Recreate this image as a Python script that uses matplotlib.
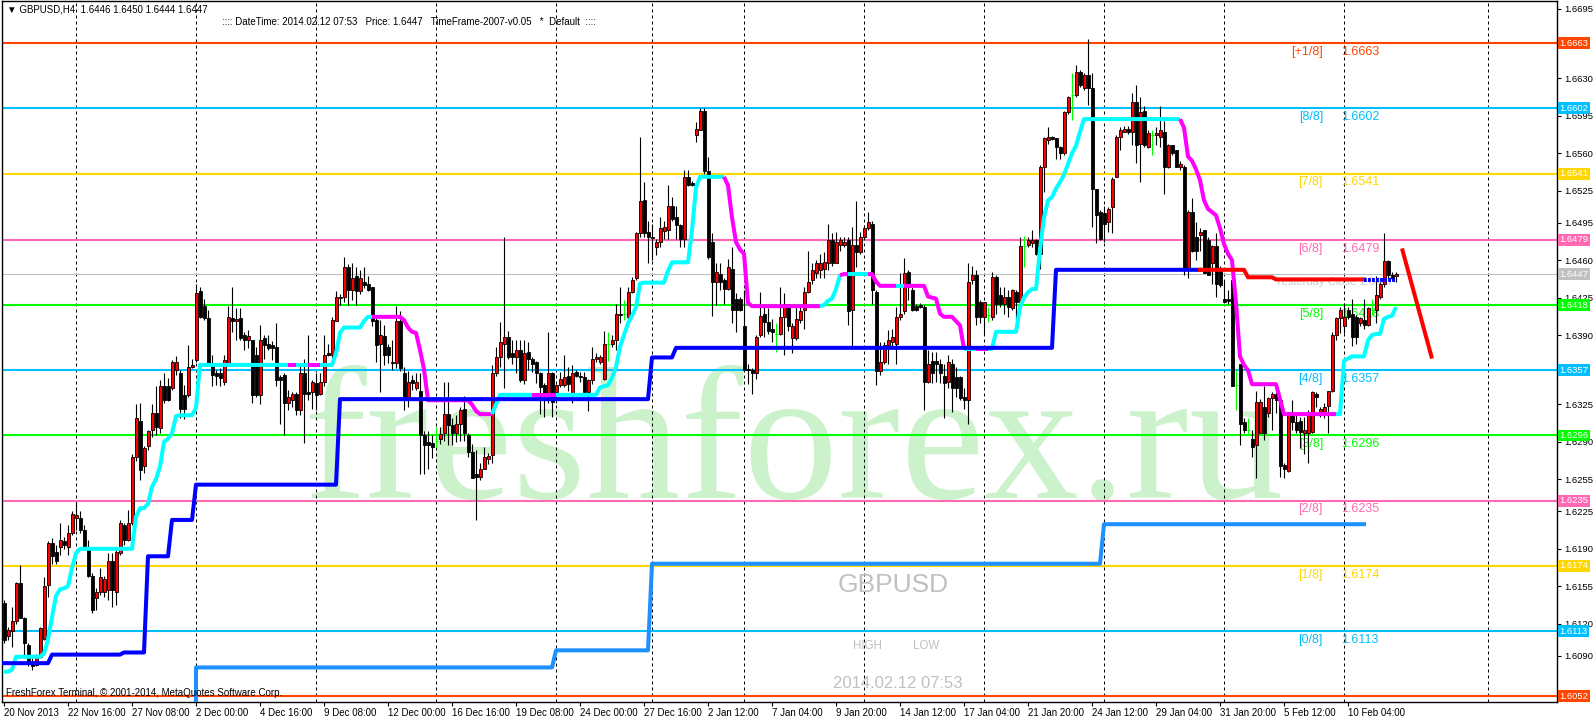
import numpy as np
import matplotlib
matplotlib.use('Agg')
import matplotlib.pyplot as plt
import matplotlib.transforms as mtransforms

plt.rcParams['font.family'] = ['Liberation Sans', 'DejaVu Sans']

# prices are written in pips above 1.6000 (price = 1.6 + pips / 10000)
open_pips = [
    139, 108, 113, 122, 158, 125, 100, 84, 81, 89,
    106, 156, 195, 187, 192, 197, 192, 205, 219, 219,
    208, 192, 165, 144, 150, 150, 151, 179, 150, 186,
    212, 198, 214, 276, 310, 267, 286, 301, 317, 303,
    342, 342, 340, 357, 354, 334, 334, 360, 367, 431,
    417, 406, 364, 354, 354, 346, 364, 406, 403, 406,
    390, 385, 385, 371, 334, 387, 382, 381, 379, 351,
    353, 326, 329, 335, 320, 354, 337, 337, 345, 335,
    346, 373, 371, 403, 425, 426, 454, 432, 445, 431,
    440, 438, 435, 404, 382, 389, 379, 364, 364, 403,
    354, 332, 348, 340, 338, 296, 290, 289, 291, 293,
    298, 316, 306, 298, 307, 321, 296, 281, 260, 257,
    265, 274, 278, 354, 369, 382, 388, 373, 369, 376,
    348, 374, 368, 365, 354, 343, 335, 354, 337, 343,
    343, 352, 335, 355, 352, 351, 337, 348, 368, 365,
    349, 382, 382, 385, 410, 410, 407, 430, 443, 485,
    516, 486, 481, 472, 477, 487, 488, 511, 500, 493,
    480, 538, 532, 577, 582, 600, 543, 477, 440, 447,
    441, 433, 452, 424, 424, 398, 358, 357, 354, 390,
    410, 402, 396, 391, 391, 407, 419, 387, 387, 404,
    413, 430, 441, 448, 451, 452, 457, 479, 457, 474,
    474, 479, 413, 474, 468, 482, 490, 494, 430, 356,
    365, 381, 383, 382, 407, 412, 449, 432, 417, 418,
    416, 346, 366, 366, 363, 352, 346, 363, 351, 351,
    332, 329, 441, 446, 421, 407, 409, 407, 444, 427,
    419, 426, 415, 430, 421, 473, 474, 476, 479, 466,
    547, 572, 575, 574, 566, 560, 599, 615, 615, 636,
    621, 633, 621, 527, 505, 504, 496, 510, 538, 575,
    580, 583, 580, 608, 569, 600, 566, 577, 577, 575,
    580, 547, 568, 563, 547, 547, 451, 505, 482, 484,
    488, 479, 457, 473, 451, 424, 424, 441, 343, 363,
    309, 301, 293, 287, 298, 323, 317, 331, 335, 329,
    268, 263, 316, 309, 310, 298, 298, 299, 335, 316,
    317, 324, 338, 390, 406, 398, 413, 410, 407, 401,
    404, 399, 413, 413, 426, 438, 459, 446, 445]
high_pips = [
    142, 117, 136, 159, 175, 126, 102, 88, 92, 117,
    164, 197, 200, 194, 214, 201, 212, 225, 234, 225,
    212, 198, 167, 153, 172, 165, 186, 186, 192, 217,
    214, 226, 279, 325, 326, 286, 301, 325, 342, 348,
    354, 350, 367, 370, 357, 343, 381, 368, 438, 435,
    424, 413, 371, 357, 359, 371, 417, 435, 415, 415,
    393, 395, 385, 379, 399, 390, 390, 384, 401, 353,
    354, 339, 337, 337, 362, 368, 390, 348, 354, 354,
    390, 382, 407, 431, 428, 463, 456, 457, 454, 451,
    454, 445, 435, 406, 404, 399, 382, 385, 417, 412,
    360, 356, 353, 354, 354, 300, 300, 296, 304, 304,
    346, 346, 312, 315, 323, 333, 298, 288, 282, 270,
    285, 280, 362, 379, 402, 482, 394, 385, 385, 385,
    385, 383, 369, 366, 355, 345, 393, 355, 344, 355,
    371, 360, 362, 357, 355, 355, 349, 379, 373, 371,
    394, 393, 390, 419, 435, 423, 435, 444, 486, 575,
    533, 497, 494, 480, 500, 497, 530, 519, 511, 494,
    544, 544, 534, 589, 602, 602, 557, 485, 457, 457,
    443, 461, 472, 429, 426, 432, 363, 359, 390, 430,
    416, 415, 405, 401, 435, 429, 419, 401, 418, 416,
    435, 469, 457, 460, 466, 468, 494, 485, 486, 482,
    482, 482, 491, 515, 486, 493, 505, 497, 432, 383,
    383, 395, 396, 416, 448, 462, 451, 435, 419, 420,
    418, 376, 374, 374, 368, 363, 371, 368, 360, 352,
    340, 457, 455, 451, 423, 421, 416, 449, 446, 435,
    435, 432, 433, 432, 482, 483, 482, 488, 480, 549,
    575, 585, 576, 574, 567, 600, 614, 635, 643, 638,
    635, 667, 635, 527, 507, 511, 510, 538, 577, 585,
    586, 586, 616, 624, 613, 604, 582, 582, 585, 604,
    590, 569, 568, 563, 553, 549, 507, 518, 496, 490,
    488, 482, 474, 485, 455, 441, 432, 441, 357, 363,
    312, 312, 301, 338, 330, 342, 332, 337, 337, 332,
    270, 318, 329, 315, 313, 313, 320, 338, 337, 323,
    326, 338, 393, 407, 416, 420, 416, 424, 409, 407,
    424, 416, 424, 445, 440, 485, 460, 449, 449]
low_pips = [
    102, 105, 98, 120, 125, 89, 80, 77, 80, 88,
    105, 145, 176, 176, 184, 190, 184, 203, 208, 205,
    190, 164, 130, 133, 147, 145, 142, 136, 137, 184,
    194, 197, 212, 272, 254, 261, 282, 295, 296, 298,
    326, 328, 339, 353, 312, 311, 332, 359, 365, 406,
    404, 362, 342, 343, 342, 343, 364, 393, 385, 385,
    376, 378, 326, 332, 325, 368, 376, 367, 342, 307,
    296, 320, 323, 315, 315, 289, 329, 321, 320, 334,
    342, 370, 368, 403, 418, 421, 418, 423, 418, 428,
    434, 431, 398, 365, 337, 362, 364, 357, 359, 356,
    320, 323, 339, 339, 260, 260, 265, 275, 285, 288,
    291, 287, 287, 290, 291, 291, 276, 256, 217, 254,
    265, 269, 270, 352, 360, 340, 368, 363, 354, 346,
    344, 357, 355, 345, 316, 313, 326, 313, 326, 341,
    341, 338, 326, 351, 346, 335, 319, 344, 365, 363,
    348, 366, 379, 376, 401, 404, 405, 429, 441, 482,
    482, 457, 460, 465, 472, 480, 480, 497, 480, 472,
    472, 529, 529, 571, 582, 541, 461, 408, 418, 432,
    419, 432, 401, 393, 412, 357, 344, 335, 349, 388,
    388, 391, 383, 374, 390, 371, 394, 373, 385, 401,
    396, 429, 438, 443, 443, 443, 451, 455, 457, 469,
    472, 399, 379, 454, 466, 479, 488, 419, 343, 353,
    363, 363, 379, 363, 404, 410, 423, 412, 412, 415,
    320, 345, 345, 346, 345, 312, 340, 318, 332, 329,
    321, 307, 438, 399, 401, 391, 402, 404, 410, 416,
    410, 407, 413, 404, 419, 454, 472, 472, 465, 452,
    524, 569, 572, 555, 555, 558, 597, 591, 613, 622,
    619, 605, 491, 476, 479, 477, 486, 485, 538, 563,
    580, 578, 568, 551, 533, 566, 565, 558, 568, 566,
    522, 546, 558, 547, 544, 446, 443, 468, 460, 469,
    448, 446, 438, 426, 435, 421, 419, 342, 320, 287,
    298, 296, 276, 256, 298, 292, 313, 301, 317, 257,
    256, 262, 301, 298, 284, 279, 270, 298, 323, 313,
    312, 298, 337, 385, 392, 392, 405, 380, 382, 398,
    396, 398, 409, 401, 424, 435, 443, 441, 440]
close_pips = [
    105, 114, 122, 158, 125, 102, 84, 80, 91, 116,
    155, 195, 183, 179, 198, 194, 205, 223, 222, 208,
    192, 165, 133, 150, 164, 162, 179, 151, 187, 214,
    198, 214, 276, 312, 264, 284, 300, 317, 304, 342,
    329, 329, 365, 365, 321, 321, 360, 362, 429, 407,
    406, 364, 353, 352, 350, 367, 407, 403, 405, 387,
    385, 389, 334, 334, 385, 381, 378, 378, 348, 348,
    326, 332, 335, 320, 354, 335, 335, 346, 334, 346,
    371, 371, 404, 426, 426, 454, 432, 443, 431, 443,
    437, 432, 403, 381, 390, 371, 371, 365, 403, 359,
    332, 346, 345, 346, 296, 287, 287, 285, 291, 297,
    316, 306, 298, 307, 320, 298, 281, 256, 257, 265,
    276, 277, 354, 369, 383, 388, 369, 369, 376, 348,
    373, 368, 363, 354, 341, 335, 354, 327, 343, 349,
    351, 344, 354, 352, 351, 337, 348, 368, 369, 369,
    382, 382, 385, 410, 409, 410, 430, 441, 485, 515,
    485, 482, 482, 477, 490, 491, 511, 499, 493, 480,
    538, 530, 530, 583, 600, 543, 463, 440, 449, 440,
    433, 454, 413, 413, 413, 357, 357, 354, 388, 408,
    402, 394, 393, 391, 407, 419, 398, 398, 405, 412,
    430, 440, 451, 457, 457, 458, 479, 457, 477, 479,
    477, 412, 474, 468, 482, 490, 496, 432, 356, 365,
    381, 385, 388, 407, 410, 448, 435, 413, 413, 416,
    346, 363, 354, 363, 354, 345, 365, 340, 340, 331,
    329, 440, 446, 407, 407, 421, 409, 444, 419, 419,
    426, 416, 432, 421, 473, 473, 479, 479, 466, 547,
    574, 575, 573, 566, 560, 599, 613, 615, 636, 624,
    633, 621, 527, 502, 480, 494, 508, 536, 575, 582,
    583, 580, 608, 568, 599, 568, 579, 577, 579, 582,
    547, 568, 560, 547, 550, 451, 505, 469, 469, 486,
    448, 446, 473, 438, 437, 421, 422, 342, 343, 307,
    301, 301, 285, 327, 327, 298, 331, 335, 329, 267,
    265, 318, 309, 301, 299, 301, 317, 337, 332, 321,
    323, 338, 390, 406, 413, 407, 407, 388, 388, 406,
    399, 415, 413, 427, 438, 459, 446, 443, 447]

# trailing line (aqua while rising, magenta while falling)
trail_pips = [
    75, 75, 77, 89, 89, 89, 89, 89, 89, 89,
    92, 105, 126, 146, 152, 153, 155, 172, 186, 190,
    190, 190, 190, 190, 190, 190, 190, 190, 190, 190,
    190, 190, 190, 220, 228, 228, 232, 248, 255, 267,
    290, 293, 298, 314, 315, 315, 315, 315, 322, 362,
    362, 362, 362, 362, 362, 362, 362, 362, 362, 362,
    362, 362, 362, 362, 362, 362, 362, 362, 362, 362,
    362, 362, 362, 362, 362, 362, 362, 362, 362, 362,
    362, 362, 362, 373, 392, 397, 397, 397, 397, 397,
    403, 407, 407, 407, 407, 407, 407, 407, 407, 407,
    404, 397, 393, 392, 376, 358, 329, 329, 329, 329,
    329, 329, 329, 329, 329, 329, 329, 325, 319, 316,
    316, 316, 316, 325, 334, 334, 334, 334, 334, 334,
    334, 334, 334, 334, 334, 334, 334, 334, 334, 334,
    334, 334, 334, 334, 334, 334, 334, 334, 334, 341,
    342, 343, 350, 360, 379, 390, 401, 408, 416, 438,
    439, 439, 439, 439, 439, 439, 450, 458, 458, 458,
    458, 458, 488, 528, 538, 538, 538, 538, 538, 538,
    538, 530, 500, 477, 470, 466, 420, 417, 417, 417,
    417, 417, 417, 417, 417, 417, 417, 417, 417, 417,
    417, 417, 417, 417, 417, 418, 422, 424, 433, 446,
    447, 447, 447, 447, 447, 447, 447, 447, 440, 436,
    436, 436, 436, 436, 436, 436, 436, 436, 436, 436,
    436, 426, 425, 424, 410, 407, 407, 407, 403, 399,
    377, 377, 377, 377, 377, 377, 377, 377, 393, 393,
    393, 393, 393, 393, 416, 425, 430, 433, 433, 470,
    500, 516, 519, 527, 533, 540, 550, 560, 567, 580,
    592, 592, 592, 592, 592, 592, 592, 592, 592, 592,
    592, 592, 592, 592, 592, 592, 592, 592, 592, 592,
    592, 592, 592, 592, 592, 584, 557, 553, 545, 535,
    516, 508, 505, 502, 490, 475, 466, 460, 420, 370,
    362, 357, 344, 344, 344, 344, 344, 344, 344, 330,
    316, 316, 316, 316, 316, 316, 316, 316, 316, 316,
    316, 316, 316, 316, 316, 366, 368, 370, 370, 370,
    370, 385, 390, 391, 391, 405, 407, 408, 416]
trend_start = [0, 72, 74, 77, 80, 93, 123, 133, 139, 181, 205, 210, 212,
               217, 224, 226, 241, 244, 247, 295, 334]
trend_dir = ['u', 'd', 'u', 'd', 'u', 'd', 'u', 'd', 'u', 'd', 'u', 'd', 'u',
             'd', 'u', 'd', 'u', 'd', 'u', 'd', 'u']

# stepped support lines
blue_bars = [0, 11, 12, 29, 30, 35, 36, 41, 42, 47, 48, 83, 84, 161, 162, 167, 168, 262, 263, 299]
blue_pips = [83, 83, 91, 91, 93, 93, 183, 183, 217, 217, 250, 250, 330, 330, 369, 369, 378, 378, 451, 451]
red_bars = [299, 310, 311, 317, 318, 340]
red_pips = [451, 451, 444, 444, 442, 442]
blue_dash_bars = [340, 348]
blue_dash_pips = [441, 441]
dodger_bars = [48, 48, 137, 138, 161, 162, 274, 275, 340]
dodger_prices = [1.6040, 1.6079, 1.6079, 1.6095, 1.6095, 1.6176, 1.6176, 1.6213, 1.6213]
proj_bars = [349.5, 357]
proj_prices = [1.6471, 1.6368]

# Murrey levels
level_names = ['[+1/8]', '[8/8]', '[7/8]', '[6/8]', '[5/8]', '[4/8]', '[3/8]', '[2/8]', '[1/8]', '[0/8]', '']
level_prices = [1.6663, 1.6602, 1.6541, 1.6479, 1.6418, 1.6357, 1.6296, 1.6235, 1.6174, 1.6113, 1.6052]
level_colors = ['#FF4500', '#00BFFF', '#FFD700', '#FF69B4', '#00FF00', '#00BFFF', '#00FF00',
                '#FF69B4', '#FFD700', '#00BFFF', '#FF4500']
bid_price = 1.6447

week_sep = [18, 48, 78, 108, 138, 162, 185, 215, 245, 275, 305, 335, 371]
date_bars = list(range(0, 337, 16))
date_labels = ['20 Nov 2013', '22 Nov 16:00', '27 Nov 08:00', '2 Dec 00:00', '4 Dec 16:00',
               '9 Dec 08:00', '12 Dec 00:00', '16 Dec 16:00', '19 Dec 08:00', '24 Dec 00:00',
               '27 Dec 16:00', '2 Jan 12:00', '7 Jan 04:00', '9 Jan 20:00', '14 Jan 12:00',
               '17 Jan 04:00', '21 Jan 20:00', '24 Jan 12:00', '29 Jan 04:00', '31 Jan 20:00',
               '5 Feb 12:00', '10 Feb 04:00']
# scale labels left visible by the price boxes
price_ticks = [1.6695, 1.6630, 1.6595, 1.6560, 1.6525, 1.6495, 1.6460, 1.6425, 1.6390,
               1.6325, 1.6290, 1.6255, 1.6225, 1.6190, 1.6155, 1.6120, 1.6090]


def to_price(p):
    return np.array([np.nan if v is None else 1.6 + v / 10000 for v in p])


o = to_price(open_pips)
h = to_price(high_pips)
l = to_price(low_pips)
c = to_price(close_pips)
trail = to_price(trail_pips)
n = len(o)
idx = np.arange(n)

W, H = 1596, 720
fig = plt.figure(figsize=(W / 100, H / 100), dpi=100)
ax = fig.add_axes([2 / W, 18 / H, 1555 / W, 701 / H])
ax.set_xlim(-0.5, 388.25)
ax.set_ylim(1.604667, 1.670248)


def fx(x):
    return x / W


def fy(y):
    return 1 - y / H


# watermark
ax.text(0.5087, 0.291, 'freshforex.ru', transform=ax.transAxes, ha='center', va='baseline',
        fontsize=136, family='Liberation Serif', color='#ccf2cc', zorder=0.5)

for s in week_sep:
    ax.axvline(s - 0.125, color='black', lw=0.72, ls=(0, (3, 3)), zorder=1.5)

for p, col in zip(level_prices, level_colors):
    ax.axhline(p, color=col, lw=1.5, zorder=2)
ax.axhline(bid_price, color='#C0C0C0', lw=0.8, zorder=2)

ytr = ax.get_yaxis_transform()
for name, p, col in zip(level_names, level_prices, level_colors):
    if not name:
        continue
    ax.annotate(name, xy=(0.8495, p), xycoords=ytr, xytext=(0, -2), textcoords='offset points',
                ha='right', va='top', color=col, fontsize=9, zorder=2.5)
    ax.annotate(f'{p:.4f}', xy=(0.8611, p), xycoords=ytr, xytext=(0, -2), textcoords='offset points',
                ha='left', va='top', color=col, fontsize=9, zorder=2.5)

# symbol info texts
ax.text(fx(838), fy(585), 'GBPUSD', transform=fig.transFigure, ha='left', va='center',
        fontsize=19, color='#C0C0C0', zorder=2.5)
ax.text(fx(853), fy(646), 'HIGH', transform=fig.transFigure, ha='left', va='center',
        fontsize=8.3, color='#C0C0C0', zorder=2.5)
ax.text(fx(913), fy(646), 'LOW', transform=fig.transFigure, ha='left', va='center',
        fontsize=8.3, color='#C0C0C0', zorder=2.5)
ax.text(fx(833), fy(684), '2014.02.12 07:53', transform=fig.transFigure, ha='left', va='center',
        fontsize=12, color='#C0C0C0', zorder=2.5)
ax.text(fx(1393), fy(282), 'Yesterday Close 1.6447', transform=fig.transFigure, ha='right',
        va='center', fontsize=8, color='#C8C8C8', zorder=2.6)

# candles
doji = c == o
bull = c > o
bear = c < o
ax.vlines(idx[~doji], l[~doji], h[~doji], color='black', lw=0.8, zorder=3)
ax.vlines(idx[doji], l[doji], h[doji], color='#00FF00', lw=0.8, zorder=3)
ax.hlines(c[doji], idx[doji] - 0.375, idx[doji] + 0.375, color='#00FF00', lw=0.8, zorder=3.1)
body = np.maximum(np.abs(c - o), 0.00009)
ax.bar(idx[bull], body[bull], bottom=o[bull], width=0.75, color='#FF0000',
       edgecolor='black', linewidth=0.6, zorder=3.1)
ax.bar(idx[bear], body[bear], bottom=c[bear], width=0.75, color='black',
       edgecolor='black', linewidth=0.6, zorder=3.1)

# trailing line, coloured by direction
for s, e, d in zip(trend_start, trend_start[1:] + [n], trend_dir):
    a = max(s - 1, 0)
    ax.plot(idx[a:e], trail[a:e], color='#00FFFF' if d == 'u' else '#FF00FF',
            lw=2.9, solid_capstyle='butt', zorder=4)

ax.plot(blue_bars, to_price(blue_pips), color='#0000FF', lw=2.9, zorder=4)
ax.plot(red_bars, to_price(red_pips), color='#FF0000', lw=2.9, zorder=4)
ax.plot(blue_dash_bars, to_price(blue_dash_pips), color='#0000FF', lw=2.9,
        ls=(0, (0.7, 0.3)), zorder=4)
ax.plot(dodger_bars, dodger_prices, color='#1E90FF', lw=2.9, zorder=4)
ax.plot(proj_bars, proj_prices, color='#FF0000', lw=2.9, zorder=4, solid_capstyle='butt')

# axes and ticks
for sp in ax.spines.values():
    sp.set_color('black')
    sp.set_linewidth(1)
ax.set_xticks(date_bars)
ax.set_xticklabels(date_labels, ha='left', fontsize=7)
shift = mtransforms.ScaledTranslation(-2 / 100, 0, fig.dpi_scale_trans)
for lab in ax.get_xticklabels():
    lab.set_transform(lab.get_transform() + shift)
ax.tick_params(axis='x', length=3, width=0.8, pad=1)
ax.yaxis.tick_right()
ax.set_yticks(price_ticks)
ax.set_yticklabels([f'{p:.4f}' for p in price_ticks], fontsize=6.8)
ax.tick_params(axis='y', length=3, width=0.8, pad=2)

# price boxes on the scale
for p, col in zip(level_prices + [bid_price], level_colors + ['#C0C0C0']):
    ax.annotate(f'{p:.4f}', xy=(1, p), xycoords=ytr, xytext=(2, 0), textcoords='offset points',
                ha='left', va='center', color='white', fontsize=6.8, zorder=10,
                annotation_clip=False,
                bbox=dict(boxstyle='square,pad=0.15', fc=col, ec='none'))

# header and footer texts
fig.text(fx(7), fy(10), '▼ GBPUSD,H4  1.6446 1.6450 1.6444 1.6447', fontsize=7, va='center')
fig.text(fx(222), fy(22), ':::: DateTime: 2014.02.12 07:53   Price: 1.6447   '
         'TimeFrame-2007-v0.05   *  Default  ::::', fontsize=7, va='center')
fig.text(fx(6), fy(693), 'FreshForex Terminal, © 2001-2014, MetaQuotes Software Corp.',
         fontsize=7, va='center')

fig.savefig('out.png', dpi=100)
